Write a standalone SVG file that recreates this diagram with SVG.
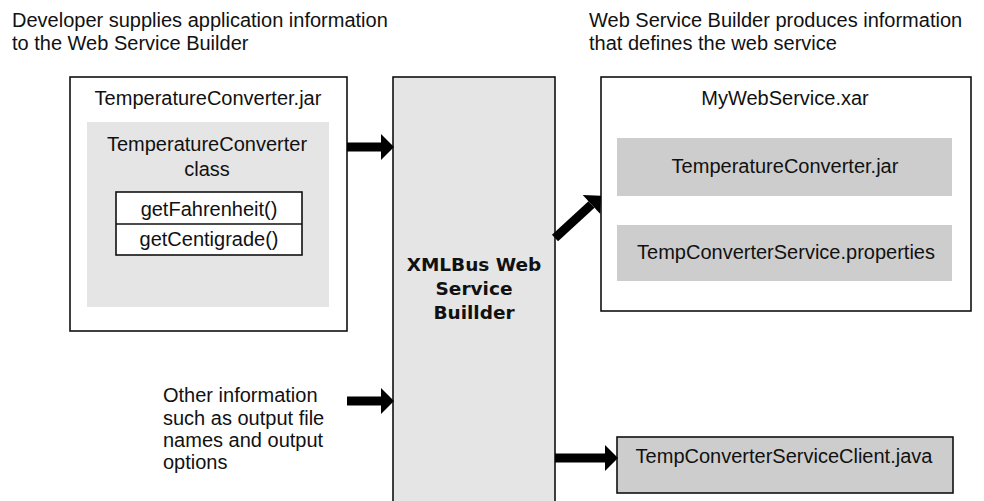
<svg xmlns="http://www.w3.org/2000/svg" width="984" height="501" viewBox="0 0 984 501">
<style>
.t{font-family:"Liberation Sans",Arial,sans-serif;font-size:20px;fill:#111}
.c{text-anchor:middle}
.b{font-family:"DejaVu Sans","Liberation Sans",sans-serif;font-weight:bold;font-size:18.5px;fill:#111;text-anchor:middle}
.box{fill:#fff;stroke:#111;stroke-width:1.6}
.lg{fill:#e5e5e5}
.dg{fill:#cdcdcd}
.arr{stroke:#000;stroke-width:9;fill:none;marker-end:url(#ah)}
</style>
<defs>
<marker id="ah" markerUnits="userSpaceOnUse" markerWidth="14" markerHeight="26" refX="0" refY="13" orient="auto" overflow="visible">
<path d="M0,0 L13,13 L0,26 z" fill="#000"/>
</marker>
</defs>
<rect width="984" height="501" fill="#fff"/>
<g id="caption-left">
<text class="t" x="12" y="27">Developer supplies application information</text>
<text class="t" x="12" y="50">to the Web Service Builder</text>
</g>
<g id="caption-right">
<text class="t" x="589" y="27">Web Service Builder produces information</text>
<text class="t" x="589" y="50">that defines the web service</text>
</g>
<g id="jar">
<rect class="box" x="70" y="77" width="277" height="254"/>
<text class="t c" x="208" y="105">TemperatureConverter.jar</text>
<rect class="lg" x="87" y="122" width="242" height="185"/>
<text class="t c" x="207" y="151">TemperatureConverter</text>
<text class="t c" x="207" y="176">class</text>
<rect class="box" x="116" y="192" width="186" height="63"/>
<line x1="116" y1="224" x2="302" y2="224" stroke="#111" stroke-width="1.6"/>
<text class="t c" x="209" y="216">getFahrenheit()</text>
<text class="t c" x="209" y="246">getCentigrade()</text>
</g>
<g id="builder">
<rect x="393" y="77" width="162" height="440" fill="#e5e5e5" stroke="#111" stroke-width="1.6"/>
<text class="b" x="474" y="271">XMLBus Web</text>
<text class="b" x="474" y="295">Service</text>
<text class="b" x="474" y="319">Buillder</text>
</g>
<g id="xar">
<rect class="box" x="601" y="77" width="370" height="234"/>
<text class="t c" x="785" y="105">MyWebService.xar</text>
<rect class="dg" x="617" y="138" width="335" height="58"/>
<text class="t c" x="785" y="173">TemperatureConverter.jar</text>
<rect class="dg" x="617" y="225" width="335" height="56"/>
<text class="t c" x="786" y="259">TempConverterService.properties</text>
</g>
<g id="other-info">
<text class="t" x="163" y="402">Other information</text>
<text class="t" x="163" y="425">such as output file</text>
<text class="t" x="163" y="447">names and output</text>
<text class="t" x="163" y="469">options</text>
</g>
<g id="client">
<rect x="617" y="437" width="336" height="56" fill="#cdcdcd" stroke="#111" stroke-width="1.6"/>
<text class="t c" x="784" y="463">TempConverterServiceClient.java</text>
</g>
<g id="connectors">
<line class="arr" x1="347" y1="147" x2="381" y2="147"/>
<line class="arr" x1="347" y1="401" x2="381" y2="401"/>
<line class="arr" x1="555" y1="458" x2="605" y2="458"/>
<line class="arr" x1="555" y1="238" x2="591.5" y2="204.5"/>
</g>
</svg>
